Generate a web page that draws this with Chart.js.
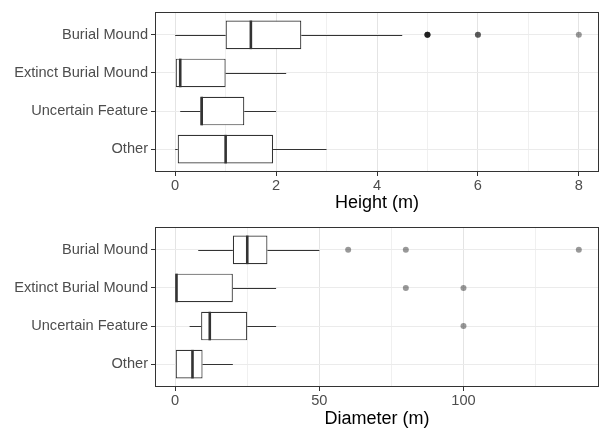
<!DOCTYPE html>
<html>
<head>
<meta charset="utf-8">
<script src="https://cdn.jsdelivr.net/npm/chart.js@4.4.1/dist/chart.umd.min.js"></script>
<style>
    body { margin: 0; background: #fff; }
    canvas { position: absolute; left: 0; }
    #heightChart { top: 0; }
    #diamChart { top: 214px; }
</style>
</head>
<body>
<canvas id="heightChart" width="603" height="214"></canvas>
<canvas id="diamChart" width="603" height="214"></canvas>
<script>
// Categories, top to bottom
const categories = ['Burial Mound', 'Extinct Burial Mound', 'Uncertain Feature', 'Other'];

// Height (m) box stats
const heightLow = [0, 0, 0.1, 0];
const heightQ1 = [1, 0, 0.5, 0.05];
const heightMed = [1.5, 0.1, 0.5, 1];
const heightQ3 = [2.5, 1, 1.37, 1.94];
const heightHigh = [4.5, 2.2, 2, 3];
const heightOutliers = [[5, 5, 5, 5, 6, 6, 8], [], [], []];
const heightTicks = [0, 1, 2, 3, 4, 5, 6, 7, 8];
const heightLabels = [0, 2, 4, 6, 8];

// Diameter (m) box stats
const diamLow = [8, 0, 5, 0];
const diamQ1 = [20, 0, 9, 0];
const diamMed = [25, 0, 12, 6];
const diamQ3 = [32, 20, 25, 9.5];
const diamHigh = [50, 35, 35, 20];
const diamOutliers = [[60, 80, 140], [80, 100], [100], []];
const diamTicks = [0, 25, 50, 75, 100, 125];
const diamLabels = [0, 50, 100];

const INK = '#333333';
const FONT = "'Liberation Sans', Arial, sans-serif";

// whiskers, medians and panel border drawn through the chart's scales
function boxPlugin(s) {
    return {
        id: 'boxExtras',
        beforeDatasetsDraw(chart) {
            const x = chart.scales.x, y = chart.scales.y;
            const ctx = chart.ctx;
            ctx.save();
            ctx.strokeStyle = INK;
            ctx.lineWidth = 1;
            s.low.forEach((v, i) => {
                const py = Math.round(y.getPixelForValue(i + 1)) + 0.5;
                ctx.beginPath();
                ctx.moveTo(x.getPixelForValue(v), py);
                ctx.lineTo(x.getPixelForValue(s.q1[i]), py);
                ctx.moveTo(x.getPixelForValue(s.q3[i]), py);
                ctx.lineTo(x.getPixelForValue(s.high[i]), py);
                ctx.stroke();
            });
            ctx.restore();
        },
        afterDatasetsDraw(chart) {
            const x = chart.scales.x;
            const meta = chart.getDatasetMeta(0);
            const ctx = chart.ctx;
            ctx.save();
            ctx.strokeStyle = INK;
            ctx.lineWidth = 2.6;
            s.med.forEach((v, i) => {
                const bar = meta.data[i];
                const px = x.getPixelForValue(v) + (v === s.q1[i] ? 1.3 : 0);
                ctx.beginPath();
                ctx.moveTo(px, bar.y - bar.height / 2);
                ctx.lineTo(px, bar.y + bar.height / 2);
                ctx.stroke();
            });
            const a = chart.chartArea;
            ctx.lineWidth = 1;
            ctx.strokeRect(a.left + 0.5, a.top + 0.5, a.right - a.left - 1, a.bottom - a.top - 1);
            ctx.restore();
        }
    };
}

function makeChart(id, stats, opts) {
    const points = stats.outliers.flatMap((vals, i) => vals.map(v => ({ x: v, y: i + 1 })));
    return new Chart(document.getElementById(id), {
        type: 'bar',
        data: {
            datasets: [
                {
                    data: stats.q1.map((q, i) => ({ x: [q, stats.q3[i]], y: i + 1 })),
                    backgroundColor: '#ffffff',
                    borderColor: INK,
                    borderWidth: 1.2,
                    borderSkipped: false,
                    barPercentage: 0.75,
                    categoryPercentage: 1
                },
                {
                    type: 'scatter',
                    data: points,
                    backgroundColor: 'rgba(0,0,0,0.4)',
                    borderWidth: 0,
                    pointRadius: 3
                }
            ]
        },
        options: {
            indexAxis: 'y',
            responsive: false,
            animation: false,
            devicePixelRatio: 1,
            layout: { padding: { top: opts.top, right: 1, left: 0, bottom: 0 } },
            plugins: { legend: { display: false }, tooltip: { enabled: false } },
            scales: {
                x: {
                    type: 'linear',
                    min: opts.min,
                    max: opts.max,
                    offset: false,
                    afterBuildTicks: (sc) => { sc.ticks = opts.ticks.map(v => ({ value: v })); },
                    afterFit: (sc) => { sc.height = opts.axisH; },
                    border: { display: false },
                    grid: {
                        offset: false,
                        color: (c) => opts.labels.includes(c.tick.value) ? '#e4e4e4' : '#f0f0f0',
                        tickColor: (c) => opts.labels.includes(c.tick.value) ? INK : 'rgba(0,0,0,0)',
                        tickLength: 4
                    },
                    ticks: {
                        padding: 1,
                        color: '#4d4d4d',
                        font: { family: FONT, size: 14.6 },
                        maxRotation: 0,
                        autoSkip: false,
                        callback: (v) => opts.labels.includes(v) ? String(v) : ''
                    },
                    title: {
                        display: true,
                        text: opts.title,
                        color: '#000',
                        font: { family: FONT, size: 18, lineHeight: 1 },
                        padding: { top: 0, bottom: opts.titlePad }
                    }
                },
                y: {
                    type: 'linear',
                    reverse: true,
                    min: 0.4,
                    max: 4.6,
                    offset: false,
                    afterBuildTicks: (sc) => { sc.ticks = categories.map((c, i) => ({ value: i + 1 })); },
                    afterFit: (sc) => { sc.width = 155; },
                    border: { display: false },
                    grid: { offset: false, color: '#ebebeb', tickColor: INK, tickLength: 4 },
                    ticks: {
                        padding: 3,
                        color: '#4d4d4d',
                        autoSkip: false,
                        font: { family: FONT, size: 14.6 },
                        callback: (v) => categories[v - 1]
                    }
                }
            }
        },
        plugins: [boxPlugin(stats)]
    });
}

makeChart('heightChart',
    { low: heightLow, q1: heightQ1, med: heightMed, q3: heightQ3, high: heightHigh, outliers: heightOutliers },
    { min: -0.4, max: 8.4, ticks: heightTicks, labels: heightLabels, title: 'Height (m)', top: 12, axisH: 42, titlePad: 2 });

makeChart('diamChart',
    { low: diamLow, q1: diamQ1, med: diamMed, q3: diamQ3, high: diamHigh, outliers: diamOutliers },
    { min: -7, max: 147, ticks: diamTicks, labels: diamLabels, title: 'Diameter (m)', top: 13, axisH: 41, titlePad: 0 });
</script>
</body>
</html>
